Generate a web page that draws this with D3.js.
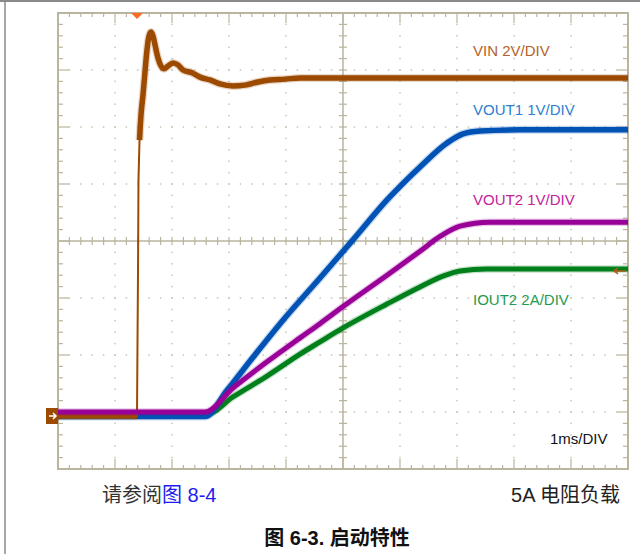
<!DOCTYPE html>
<html><head><meta charset="utf-8">
<script src="https://cdn.jsdelivr.net/npm/d3@7"></script>
<style>html,body{margin:0;padding:0;background:#fff;}svg{display:block;}</style>
</head><body>
<script>
// ---- data (time in ms, 1 ms/div) ----
const vin = [[0,0],[1.386,0],[1.395,2.67],[1.404,5.12],[1.412,8.28],[1.43,9.68],[1.456,10.56],[1.491,11.26],[1.526,12.07],[1.561,12.84],[1.596,13.33],[1.632,13.47],[1.667,13.33],[1.702,13.02],[1.754,12.56],[1.807,12.28],[1.86,12.18],[1.93,12.28],[2.018,12.39],[2.105,12.32],[2.193,12.14],[2.351,12.04],[2.491,11.89],[2.667,11.79],[2.842,11.65],[3.07,11.58],[3.281,11.61],[3.509,11.72],[3.719,11.79],[3.982,11.82],[4.246,11.86],[4.77,11.86],[10,11.86]];
const vout1 = [[0,0],[2.579,0],[2.965,0.46],[3.421,1.04],[3.947,1.69],[4.596,2.43],[5.175,3.10],[5.772,3.80],[6.351,4.38],[6.825,4.80],[7.105,4.96],[7.404,5.01],[8.105,5.03],[10,5.03]];
const vout2 = [[0,0],[2.579,0],[3.07,0.42],[3.667,0.88],[4.246,1.30],[4.596,1.55],[5.0,1.85],[5.772,2.40],[6.351,2.82],[6.702,3.08],[7.053,3.26],[7.579,3.33],[10,3.33]];
const iout2 = [[0,0],[2.614,0],[3.07,0.60],[3.667,1.33],[4.246,2.10],[4.596,2.53],[5.0,3.02],[5.772,3.86],[6.351,4.46],[6.754,4.84],[7.053,5.02],[7.526,5.09],[10,5.09]];
const channelLabels = ["VIN 2V/DIV","VOUT1 1V/DIV","VOUT2 1V/DIV","IOUT2 2A/DIV"];
const timebaseLabel = "1ms/DIV";
const triggerTime = 1.386;
const footLeftA = "请参阅", footLeftB = "图 8-4", footRight = "5A 电阻负载";
const title = "图 6-3. 启动特性";

// ---- layout ----
const W=640,H=554, L=58,R=628,T=13,B=469;
const svg=d3.select("body").append("svg").attr("width",W).attr("height",H);
const x=d3.scaleLinear().domain([0,10]).range([L,R]);
const yd=d3.scaleLinear().domain([0,8]).range([B,T]);
const gridC="#b9b59f";

// page edge lines
svg.append("line").attr("x1",5).attr("x2",5).attr("y1",0).attr("y2",H).attr("stroke","#8a8a8a").attr("stroke-width",1.5);
svg.append("line").attr("x1",0).attr("x2",W).attr("y1",1).attr("y2",1).attr("stroke","#8a8a8a").attr("stroke-width",2);

const g=svg.append("g");
// dotted grid
const dots=[];
d3.range(1,10).forEach(i=>{ if(i===5) return; d3.range(0,8.01,0.2).forEach(j=>dots.push([i,j])); });
d3.range(1,8).forEach(j=>{ if(j===4) return; d3.range(0,10.01,0.2).forEach(i=>dots.push([i,j])); });
g.selectAll("rect.dot").data(dots).enter().append("rect").attr("class","dot")
 .attr("x",d=>x(d[0])-0.75).attr("y",d=>yd(d[1])-0.75).attr("width",1.5).attr("height",1.5).attr("fill","#c9c5b2");

// center crosshair
g.append("line").attr("x1",L).attr("x2",R).attr("y1",yd(4)).attr("y2",yd(4)).attr("stroke",gridC).attr("stroke-width",1.5);
g.append("line").attr("x1",x(5)).attr("x2",x(5)).attr("y1",T).attr("y2",B).attr("stroke",gridC).attr("stroke-width",1.5);
d3.range(0,10.01,0.2).forEach(i=>{
  g.append("line").attr("x1",x(i)).attr("x2",x(i)).attr("y1",yd(4)-4).attr("y2",yd(4)+4).attr("stroke",gridC).attr("stroke-width",1.2);
  const major=Math.abs(i-Math.round(i))<1e-6;
  g.append("line").attr("x1",x(i)).attr("x2",x(i)).attr("y1",T).attr("y2",T+(major?10:4)).attr("stroke",gridC).attr("stroke-width",1.2);
  g.append("line").attr("x1",x(i)).attr("x2",x(i)).attr("y1",B).attr("y2",B-(major?10:4)).attr("stroke",gridC).attr("stroke-width",1.2);
});
d3.range(0,8.01,0.2).forEach(j=>{
  g.append("line").attr("x1",x(5)-4).attr("x2",x(5)+4).attr("y1",yd(j)).attr("y2",yd(j)).attr("stroke",gridC).attr("stroke-width",1.2);
  const major=Math.abs(j-Math.round(j))<1e-6;
  g.append("line").attr("x1",L).attr("x2",L+(major?11:5)).attr("y1",yd(j)).attr("y2",yd(j)).attr("stroke",gridC).attr("stroke-width",1.2);
  g.append("line").attr("x1",R).attr("x2",R-(major?11:5)).attr("y1",yd(j)).attr("y2",yd(j)).attr("stroke",gridC).attr("stroke-width",1.2);
});
g.append("rect").attr("x",L).attr("y",T).attr("width",R-L).attr("height",B-T).attr("fill","none").attr("stroke",gridC).attr("stroke-width",2);

// channels: ground position in divisions from bottom, units per division
const chans=[
 {data:iout2,off:0.965,per:2,col:"#00801a",w:5},
 {data:vout1,off:0.92,per:1,col:"#0052b4",w:5.5},
 {data:vin,off:0.93,per:2,col:"#9c4a00",w:5.5,fast:[1.387,1.43]},
 {data:vout2,off:1.0,per:1,col:"#980098",w:5},
];
svg.append("clipPath").attr("id","pc").append("rect").attr("x",L).attr("y",T).attr("width",R-L).attr("height",B-T);
const tg=svg.append("g").attr("clip-path","url(#pc)");
function drawThick(line,s,c){
  tg.append("path").attr("d",line(s)).attr("fill","none").attr("stroke",c.col).attr("stroke-width",c.w+2.5).attr("opacity",0.22).attr("stroke-linejoin","round");
  tg.append("path").attr("d",line(s)).attr("fill","none").attr("stroke",c.col).attr("stroke-width",c.w).attr("stroke-linejoin","round");
}
chans.forEach(c=>{
  const line=d3.line().x(d=>x(d[0])).y(d=>yd(c.off+d[1]/c.per));
  const smooth=d3.line().curve(d3.curveMonotoneX).x(d=>x(d[0])).y(d=>yd(c.off+d[1]/c.per));
  if(c.fast){
    tg.append("path").attr("d",line(c.data)).attr("fill","none").attr("stroke",c.col).attr("stroke-width",2);
    const a=c.data.filter(d=>d[0]<=c.fast[0]), b=c.data.filter(d=>d[0]>=c.fast[1]);
    drawThick(line,a,c); drawThick(smooth,b,c);
  } else {
    drawThick(smooth,c.data,c);
  }
});

// ground marker
const gy=yd(0.93);
svg.append("rect").attr("x",46).attr("y",gy-8).attr("width",12).attr("height",16).attr("fill","#9c4a00");
svg.append("path").attr("d",`M49,${gy}H56M53,${gy-3}L56,${gy}L53,${gy+3}`).attr("stroke","#fff").attr("stroke-width",1.5).attr("fill","none");
// trigger position marker
const tx=x(triggerTime);
svg.append("path").attr("d",`M${tx-6},${T}L${tx+6},${T}L${tx},${T+6}Z`).attr("fill","#ff6a22");
// trigger level arrow
const ly=yd(0.965+5.09/2)+2;
svg.append("path").attr("d",`M626,${ly}H614M618,${ly-3}L614,${ly}L618,${ly+3}`).attr("stroke","#b5571a").attr("stroke-width",1.5).attr("fill","none");

// channel labels
const font="'Liberation Sans', Arial, 'Noto Sans CJK SC', sans-serif";
const labCols=["#b3622b","#2b7fce","#c2229c","#1f9a52"];
const labY=[56,115,205,305];
channelLabels.forEach((t,i)=>svg.append("text").attr("x",473).attr("y",labY[i]).attr("fill",labCols[i]).attr("font-family",font).attr("font-size",15).text(t));
svg.append("text").attr("x",550).attr("y",444).attr("fill","#111").attr("font-family",font).attr("font-size",15).text(timebaseLabel);

// footer
const ft=svg.append("text").attr("x",102).attr("y",502).attr("font-family","'Liberation Sans', 'Noto Sans CJK SC', sans-serif").attr("font-size",20);
ft.append("tspan").attr("fill","#333").text(footLeftA);
ft.append("tspan").attr("fill","#1d1df0").text(footLeftB);
svg.append("text").attr("x",620).attr("y",502).attr("text-anchor","end").attr("fill","#222").attr("font-family","'Liberation Sans', 'Noto Sans CJK SC', sans-serif").attr("font-size",20).text(footRight);
svg.append("text").attr("x",337).attr("y",545).attr("text-anchor","middle").attr("fill","#111").attr("font-weight","bold").attr("font-family","'Liberation Sans', 'Noto Sans CJK SC', sans-serif").attr("font-size",20).text(title);
</script>
</body></html>
